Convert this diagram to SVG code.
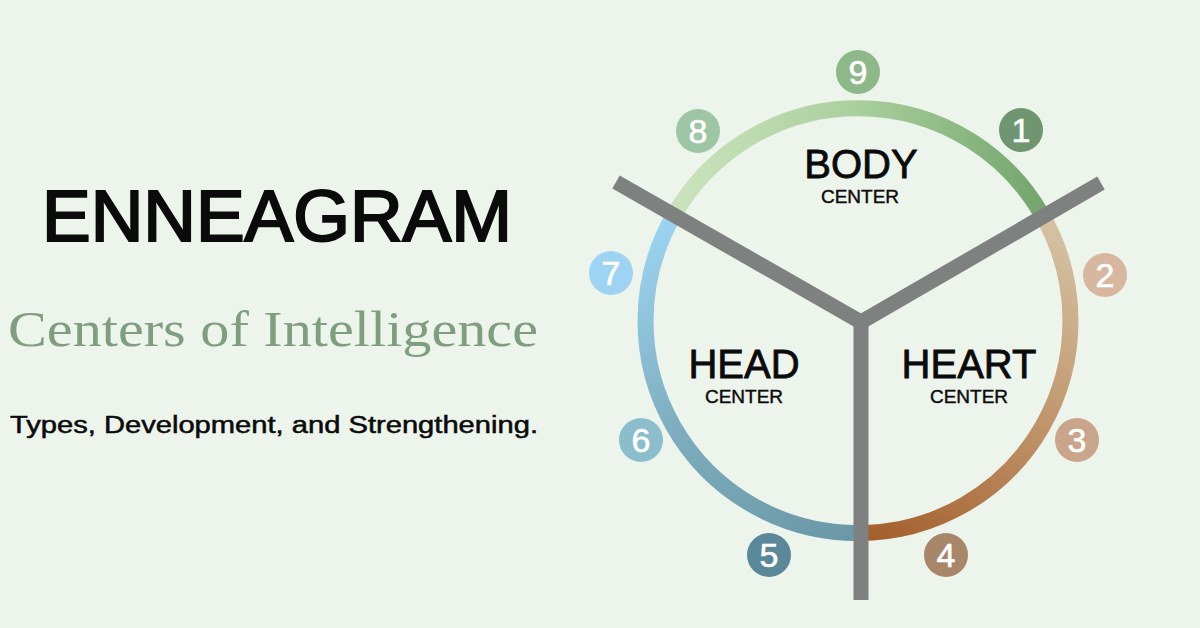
<svg xmlns="http://www.w3.org/2000/svg" width="1200" height="628" viewBox="0 0 1200 628">
  <defs>
    <style>
      .title{font-family:"Liberation Sans",Arial,sans-serif;fill:#0b0b0b;stroke:#0b0b0b}
      .serif{font-family:"Liberation Serif","Times New Roman",serif;fill:#7f9e80}
      .big{font-family:"Liberation Sans",Arial,sans-serif;font-size:40px;fill:#0b0b0b;stroke:#0b0b0b;stroke-width:0.8;text-anchor:middle}
      .small{font-family:"Liberation Sans",Arial,sans-serif;font-size:19px;fill:#0b0b0b;stroke:#0b0b0b;stroke-width:0.4;text-anchor:middle}
      .num{font-family:"Liberation Sans",Arial,sans-serif;font-size:34px;fill:#ffffff;stroke:#ffffff;stroke-width:0.6;text-anchor:middle}
      .arc{fill:none;stroke-width:16}
      .bar{fill:none;stroke:#7f8080;stroke-width:15;stroke-linejoin:miter}
    </style>
    <linearGradient id="gBody" gradientUnits="userSpaceOnUse" x1="673" y1="0" x2="1043" y2="0">
      <stop offset="0" stop-color="#cbe3bd"/>
      <stop offset="0.5" stop-color="#aacf9e"/>
      <stop offset="1" stop-color="#74a56d"/>
    </linearGradient>
    <linearGradient id="gHead" gradientUnits="userSpaceOnUse" x1="660" y1="213" x2="858" y2="533">
      <stop offset="0" stop-color="#9dd5f3"/>
      <stop offset="0.5" stop-color="#7eaebf"/>
      <stop offset="1" stop-color="#6a98a6"/>
    </linearGradient>
    <linearGradient id="gHeart" gradientUnits="userSpaceOnUse" x1="1055" y1="213" x2="858" y2="533">
      <stop offset="0" stop-color="#d6c4a6"/>
      <stop offset="0.5" stop-color="#bf946a"/>
      <stop offset="1" stop-color="#a45e2d"/>
    </linearGradient>
  </defs>
  <rect width="1200" height="628" fill="#edf4ec"/>

  <g id="heading">
    <text class="title" x="42" y="241" font-size="72" stroke-width="2.2" textLength="470" lengthAdjust="spacingAndGlyphs">ENNEAGRAM</text>
    <text class="serif" x="8" y="346" font-size="50" textLength="530" lengthAdjust="spacingAndGlyphs">Centers of Intelligence</text>
    <text class="title" x="10" y="433" font-size="23" stroke-width="0.5" textLength="528" lengthAdjust="spacingAndGlyphs">Types, Development, and Strengthening.</text>
  </g>

  <g id="connectors">
    <path id="arc-body" class="arc" stroke="url(#gBody)" d="M 674.5 214 A 212 212 0 0 1 1041.5 214"/>
    <path id="arc-head" class="arc" stroke="url(#gHead)" d="M 674.5 214 A 212 212 0 0 0 858 533"/>
    <path id="arc-heart" class="arc" stroke="url(#gHeart)" d="M 1041.5 214 A 212 212 0 0 1 858 533"/>
    <path id="y-arms" class="bar" d="M 616 182 L 861 322 L 1101 183"/>
    <line id="y-stem" class="bar" x1="861" y1="322" x2="861" y2="600"/>
  </g>

  <g id="body-center">
    <text class="big" x="861" y="178">BODY</text>
    <text class="small" x="860" y="203">CENTER</text>
  </g>
  <g id="head-center">
    <text class="big" x="744" y="378">HEAD</text>
    <text class="small" x="744" y="403">CENTER</text>
  </g>
  <g id="heart-center">
    <text class="big" x="969" y="378">HEART</text>
    <text class="small" x="969" y="403">CENTER</text>
  </g>

  <g id="type-9"><circle cx="858" cy="72" r="22" fill="#8db88a"/><text class="num" x="858" y="84">9</text></g>
  <g id="type-1"><circle cx="1021" cy="130" r="22" fill="#6f9670"/><text class="num" x="1021" y="142">1</text></g>
  <g id="type-2"><circle cx="1105" cy="275" r="22" fill="#d8b7a1"/><text class="num" x="1105" y="287">2</text></g>
  <g id="type-3"><circle cx="1077" cy="440" r="22" fill="#c9a68b"/><text class="num" x="1077" y="452">3</text></g>
  <g id="type-4"><circle cx="946" cy="555" r="22" fill="#a8866a"/><text class="num" x="946" y="567">4</text></g>
  <g id="type-5"><circle cx="769" cy="555" r="22" fill="#5b8898"/><text class="num" x="769" y="567">5</text></g>
  <g id="type-6"><circle cx="641" cy="440" r="22" fill="#8bbdcd"/><text class="num" x="641" y="452">6</text></g>
  <g id="type-7"><circle cx="611" cy="273" r="22" fill="#9fd3f3"/><text class="num" x="611" y="285">7</text></g>
  <g id="type-8"><circle cx="698" cy="131" r="22" fill="#9cc6a4"/><text class="num" x="698" y="143">8</text></g>
</svg>
